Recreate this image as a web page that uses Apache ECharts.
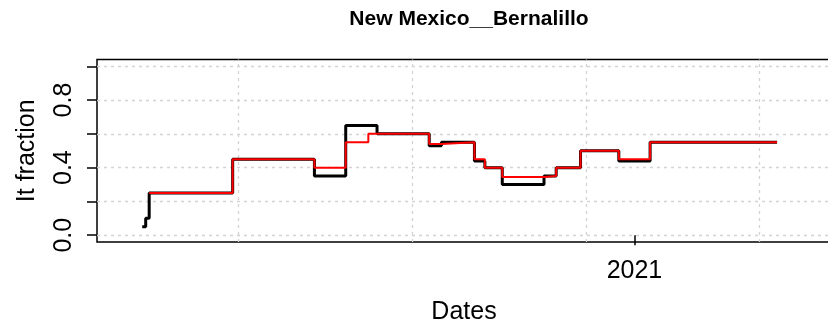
<!DOCTYPE html>
<html>
<head>
<meta charset="utf-8">
<script src="https://cdn.jsdelivr.net/npm/echarts@6/dist/echarts.min.js"></script>
<style>
  html, body { margin: 0; padding: 0; background: #fff; }
  #chart { width: 828px; height: 327px; }
</style>
</head>
<body>
<div id="chart"></div>
<script>
// Step series: estimated Rt fraction (black) and its smoothed counterpart (red)
const blackDates = ['2020-03-24','2020-03-26','2020-03-28','2020-05-15','2020-07-01','2020-07-19',
  '2020-08-06','2020-09-05','2020-09-12','2020-10-01','2020-10-07','2020-10-17','2020-11-10',
  '2020-11-17','2020-12-01','2020-12-23','2021-01-10','2021-03-24'];
const blackValues = [0.05,0.10,0.25,0.45,0.35,0.65,0.60,0.53,0.55,0.44,0.40,0.30,0.35,0.40,0.50,0.44,0.55,0.55];

const redDates = ['2020-03-28','2020-05-15','2020-07-01','2020-07-19','2020-08-01','2020-09-05',
  '2020-09-12','2020-10-01','2020-10-07','2020-10-17','2020-11-10','2020-11-17','2020-12-01',
  '2020-12-23','2021-01-10','2021-03-24'];
const redValues = [0.25,0.45,0.40,0.55,0.60,0.54,0.55,0.45,0.40,0.345,0.35,0.40,0.50,0.45,0.55,0.55];

// Axis ticks (x in days since 1970-01-01)
const xGridDays = [18400, 18500, 18600, 18700];
const xTickDays = [18628];
const xTickLabels = ['2021'];
const yTicks = [0, 0.2, 0.4, 0.6, 0.8, 1.0];
const yLabelTicks = [0, 0.4, 0.8];

const toDay = s => Math.round(Date.parse(s + 'T00:00:00Z') / 86400000);
const pairs = (dates, vals) => dates.map((d, i) => [toDay(d), vals[i]]);

const FONT = '"Liberation Sans", Arial, sans-serif';
const gridStyle = { color: '#d3d3d3', width: 1.3, type: [3, 4] };

const chart = echarts.init(document.getElementById('chart'), null, { renderer: 'canvas' });
chart.setOption({
  animation: false,
  title: {
    text: 'New Mexico__Bernalillo',
    left: 464, top: 4, textAlign: 'center',
    textStyle: { fontFamily: FONT, fontWeight: 'bold', fontSize: 21, color: '#000' }
  },
  grid: {
    show: true, left: 97, top: 59.5, right: -3, bottom: 85,
    outerBoundsMode: 'none', containLabel: false,
    borderColor: '#000', borderWidth: 1.5, backgroundColor: 'transparent'
  },
  xAxis: {
    type: 'value', min: 18319, max: 18741,
    axisLine: { show: false },
    splitLine: { show: false },
    axisTick: { show: true, customValues: xTickDays, length: 10, lineStyle: { color: '#000', width: 1.5 } },
    axisLabel: {
      customValues: xTickDays, margin: 17,
      formatter: v => xTickLabels[xTickDays.indexOf(v)] || '',
      fontFamily: FONT, fontSize: 25, color: '#000'
    },
    name: 'Dates', nameLocation: 'middle', nameGap: 58,
    nameTextStyle: { fontFamily: FONT, fontSize: 25, color: '#000' }
  },
  yAxis: {
    type: 'value', min: -0.04, max: 1.04,
    axisLine: { show: false },
    splitLine: { show: false },
    axisTick: { show: true, customValues: yTicks, length: 10, lineStyle: { color: '#000', width: 1.5 } },
    axisLabel: {
      customValues: yLabelTicks, rotate: 90, margin: 20,
      formatter: v => v.toFixed(1),
      fontFamily: FONT, fontSize: 25, color: '#000'
    },
    name: 'It fraction', nameLocation: 'middle', nameRotate: 90, nameGap: 57,
    nameTextStyle: { fontFamily: FONT, fontSize: 25, color: '#000' }
  },
  series: [
    {
      name: 'grid', type: 'line', data: [], z: 1, silent: true,
      markLine: {
        z: 1, silent: true, symbol: 'none', label: { show: false },
        lineStyle: gridStyle,
        data: xGridDays.map(d => ({ xAxis: d })).concat(yTicks.map(v => ({ yAxis: v })))
      }
    },
    {
      name: 'black', type: 'line', step: 'end', data: pairs(blackDates, blackValues),
      symbol: 'none', z: 3, lineStyle: { color: '#000', width: 3 }
    },
    {
      name: 'red', type: 'line', step: 'end', data: pairs(redDates, redValues),
      symbol: 'none', z: 4, lineStyle: { color: '#ff0000', width: 2 }
    }
  ]
});
</script>
</body>
</html>
